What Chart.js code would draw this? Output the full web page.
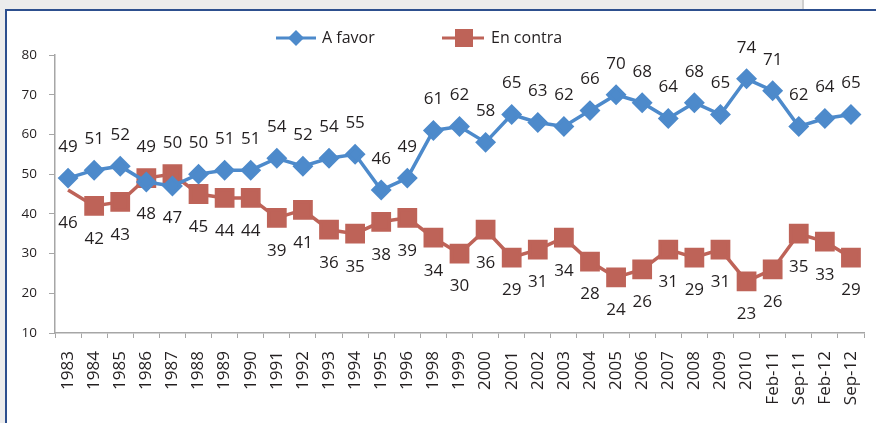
<!DOCTYPE html>
<html>
<head>
<meta charset="utf-8">
<script src="https://cdn.jsdelivr.net/npm/chart.js@4.4.1/dist/chart.umd.min.js"></script>
<style>
  html, body { margin: 0; padding: 0; background: #fff; }
  #wrap { position: relative; width: 876px; height: 423px; overflow: hidden; }
  .gray-top { position: absolute; left: 0; top: 0; width: 802px; height: 9px; background: #ececec; }
  .gray-sep { position: absolute; left: 802px; top: 0; width: 2px; height: 9px; background: #cfcfcf; }
  .gray-left { position: absolute; left: 0; top: 0; width: 5px; height: 423px; background: #ececec; }
  .blue-top { position: absolute; left: 5px; top: 9px; width: 871px; height: 2px; background: #2d4f8e; }
  .blue-left { position: absolute; left: 5px; top: 9px; width: 2px; height: 414px; background: #2d4f8e; }
  canvas { position: absolute; left: 0; top: 0; }
</style>
</head>
<body>
<div id="wrap">
  <div class="gray-top"></div>
  <div class="gray-sep"></div>
  <div class="gray-left"></div>
  <div class="blue-top"></div>
  <div class="blue-left"></div>
  <canvas id="chart" width="876" height="423"></canvas>
</div>
<script>
const categories = ['1983', '1984', '1985', '1986', '1987', '1988', '1989', '1990', '1991', '1992',
    '1993', '1994', '1995', '1996', '1998', '1999', '2000', '2001', '2002', '2003', '2004',
    '2005', '2006', '2007', '2008', '2009', '2010', 'Feb-11', 'Sep-11', 'Feb-12', 'Sep-12'];

const aFavor = [49, 51, 52, 48, 47, 50, 51, 51, 54, 52, 54, 55, 46, 49, 61, 62, 58, 65, 63, 62,
    66, 70, 68, 64, 68, 65, 74, 71, 62, 64, 65];

const enContra = [46, 42, 43, 49, 50, 45, 44, 44, 39, 41, 36, 35, 38, 39, 34, 30, 36, 29, 31, 34,
    28, 24, 26, 31, 29, 31, 23, 26, 35, 33, 29];

const yTicks = [10, 20, 30, 40, 50, 60, 70, 80];

const BLUE = '#4d8acb';
const RED = '#be6358';
const TEXT = '#231f20';
const AXIS = '#a6a6a6';
const FONT = '"Open Sans", "Noto Sans", sans-serif';

// value labels: the higher series of each pair goes above, the lower below
const pointLabels = {
    id: 'pointLabels',
    afterDatasetsDraw(chart) {
        const ctx = chart.ctx;
        const metaA = chart.getDatasetMeta(0);
        const metaB = chart.getDatasetMeta(1);
        ctx.save();
        ctx.font = '17px ' + FONT;
        ctx.fillStyle = TEXT;
        ctx.textAlign = 'center';
        ctx.textBaseline = 'middle';
        categories.forEach((c, i) => {
            const aUp = aFavor[i] >= enContra[i];
            const pa = metaA.data[i];
            const pb = metaB.data[i];
            ctx.fillText(String(aFavor[i]), pa.x, pa.y + (aUp ? -31 : 32));
            ctx.fillText(String(enContra[i]), pb.x, pb.y + (aUp ? 33 : -31));
        });
        ctx.restore();
    }
};

// legend with line samples, like the spreadsheet one
const lineLegend = {
    id: 'lineLegend',
    afterDraw(chart) {
        const ctx = chart.ctx;
        const y = 38;
        ctx.save();
        ctx.lineWidth = 3;

        ctx.strokeStyle = BLUE;
        ctx.beginPath();
        ctx.moveTo(276, y);
        ctx.lineTo(316, y);
        ctx.stroke();
        ctx.fillStyle = BLUE;
        ctx.beginPath();
        ctx.moveTo(296, y - 8);
        ctx.lineTo(304, y);
        ctx.lineTo(296, y + 8);
        ctx.lineTo(288, y);
        ctx.closePath();
        ctx.fill();

        ctx.strokeStyle = RED;
        ctx.beginPath();
        ctx.moveTo(442, y);
        ctx.lineTo(484, y);
        ctx.stroke();
        ctx.fillStyle = RED;
        ctx.fillRect(455, y - 9, 18, 18);

        ctx.font = '16px ' + FONT;
        ctx.fillStyle = TEXT;
        ctx.textAlign = 'left';
        ctx.textBaseline = 'middle';
        ctx.fillText(chart.data.datasets[0].label, 322, y);
        ctx.fillText(chart.data.datasets[1].label, 491, y);
        ctx.restore();
    }
};

new Chart(document.getElementById('chart'), {
    type: 'line',
    data: {
        labels: categories,
        datasets: [{
            label: 'A favor',
            data: aFavor,
            borderColor: BLUE,
            backgroundColor: BLUE,
            borderWidth: 3.5,
            pointStyle: 'rectRot',
            pointRadius: 8,
            pointHoverRadius: 8,
            tension: 0
        }, {
            label: 'En contra',
            data: enContra,
            borderColor: RED,
            backgroundColor: RED,
            borderWidth: 3.5,
            pointStyle: 'rect',
            pointRadius: ctx => ctx.dataIndex === 0 ? 0 : 11.5,
            pointHoverRadius: 11.5,
            tension: 0
        }]
    },
    options: {
        responsive: false,
        devicePixelRatio: 1,
        animation: false,
        layout: { autoPadding: false, padding: { top: 55, right: 12, left: 0, bottom: 0 } },
        plugins: {
            legend: { display: false },
            tooltip: { enabled: false }
        },
        scales: {
            x: {
                offset: true,
                grid: {
                    display: true,
                    offset: true,
                    drawOnChartArea: false,
                    tickLength: 5,
                    color: AXIS
                },
                border: { color: AXIS, width: 1.5 },
                ticks: {
                    autoSkip: false,
                    maxRotation: 90,
                    minRotation: 90,
                    padding: 13,
                    color: TEXT,
                    font: { family: FONT, size: 17 }
                },
                afterFit(scale) {
                    scale.height = 90;
                    scale.paddingLeft = 0;
                    scale.paddingRight = 0;
                }
            },
            y: {
                min: yTicks[0],
                max: yTicks[yTicks.length - 1],
                afterBuildTicks(scale) { scale.ticks = yTicks.map(v => ({ value: v })); },
                grid: {
                    drawOnChartArea: false,
                    tickLength: 6,
                    color: AXIS
                },
                border: { color: AXIS, width: 1.5 },
                ticks: {
                    padding: 12,
                    color: TEXT,
                    font: { family: FONT, size: 13.5 }
                },
                afterFit(scale) { scale.width = 55; }
            }
        }
    },
    plugins: [pointLabels, lineLegend]
});
</script>
</body>
</html>
